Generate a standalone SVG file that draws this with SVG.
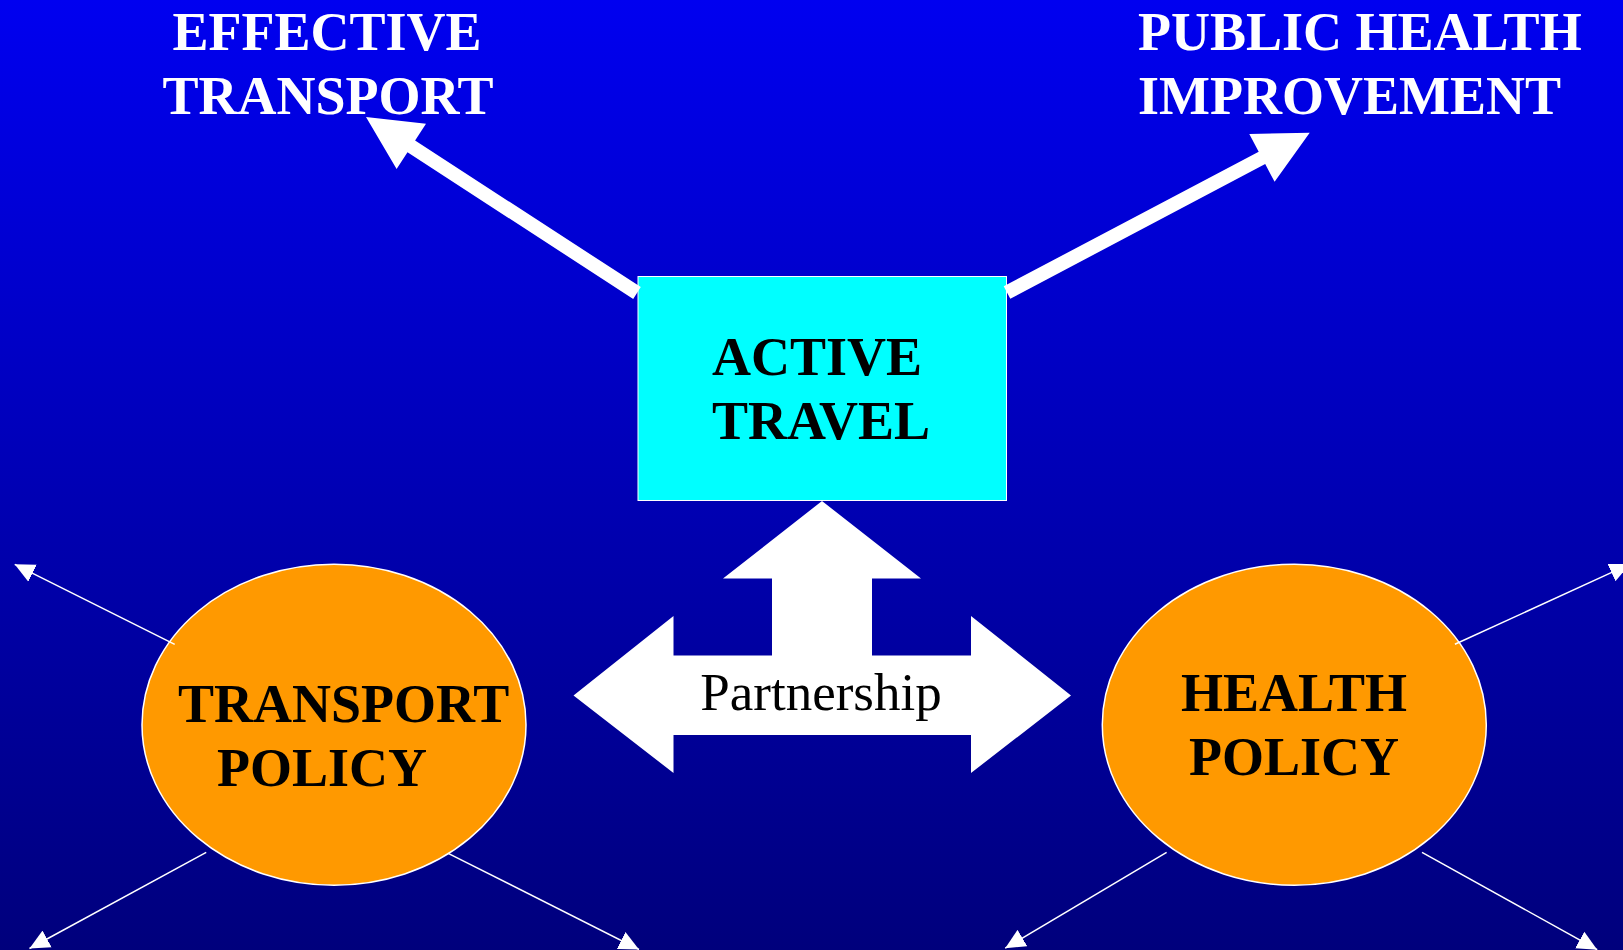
<svg xmlns="http://www.w3.org/2000/svg" width="1623" height="950" viewBox="0 0 1623 950">
  <defs>
    <linearGradient id="bg" x1="0" y1="0" x2="0" y2="1">
      <stop offset="0" stop-color="#0000F0"/>
      <stop offset="1" stop-color="#00007C"/>
    </linearGradient>
    <marker id="tip" markerUnits="userSpaceOnUse" markerWidth="20" markerHeight="20" refX="20" refY="9.5" orient="auto" viewBox="0 0 20 19">
      <path d="M0,0 L20,9.5 L0,19 z" fill="#FFFFFF"/>
    </marker>
  </defs>
  <style>
    .title { font-family: "Liberation Serif", "Times New Roman", serif; font-weight: bold; font-size: 54px; fill: #FFFFFF; }
    .label { font-family: "Liberation Serif", "Times New Roman", serif; font-weight: bold; font-size: 54px; fill: #000000; }
    .plain { font-family: "Liberation Serif", "Times New Roman", serif; font-size: 53px; fill: #000000; }
    .policy { fill: #FF9900; stroke: #FFFFFF; stroke-width: 1.5; }
    .thin { stroke: #FFFFFF; stroke-width: 1.5; fill: none; marker-end: url(#tip); }
    .bold-arrow { fill: #FFFFFF; }
  </style>

  <rect x="0" y="0" width="1623" height="950" fill="url(#bg)"/>

  <!-- outcome headings -->
  <g id="effective-transport">
    <text class="title" x="327" y="50" text-anchor="middle">EFFECTIVE</text>
    <text class="title" x="328" y="114" text-anchor="middle">TRANSPORT</text>
  </g>
  <g id="public-health">
    <text class="title" x="1138" y="50">PUBLIC HEALTH</text>
    <text class="title" x="1138" y="114">IMPROVEMENT</text>
  </g>

  <!-- central box -->
  <g id="active-travel">
    <rect x="638" y="276.5" width="368.5" height="224" fill="#00FFFF" stroke="#FFFFFF" stroke-width="1"/>
    <text class="label" x="712" y="375">ACTIVE</text>
    <text class="label" x="712" y="439">TRAVEL</text>
  </g>

  <!-- policy ellipses -->
  <g id="transport-policy">
    <ellipse class="policy" cx="334" cy="724.7" rx="192" ry="160.5"/>
    <text class="label" x="178" y="721.5">TRANSPORT</text>
    <text class="label" x="217" y="786">POLICY</text>
  </g>
  <g id="health-policy">
    <ellipse class="policy" cx="1294.3" cy="724.7" rx="192" ry="160.5"/>
    <text class="label" x="1294" y="710.5" text-anchor="middle">HEALTH</text>
    <text class="label" x="1294" y="775" text-anchor="middle">POLICY</text>
  </g>

  <!-- partnership block arrow -->
  <g id="partnership">
    <polygon class="bold-arrow" points="822,501 921,578.5 872,578.5 872,655.5 971,655.5 971,616 1071,695.5 971,773 971,735 673.5,735 673.5,773 573.5,695.5 673.5,616 673.5,655.5 772,655.5 772,578.5 723,578.5"/>
    <text class="plain" x="821" y="709.5" text-anchor="middle">Partnership</text>
  </g>

  <!-- connectors -->
  <g id="connectors">
    <polygon class="bold-arrow" points="366,117 426,123.8 415.1,140.5 640.8,287.1 633.2,298.9 407.5,152.3 396.6,169"/>
    <polygon class="bold-arrow" points="1309.7,132.7 1274.6,181.8 1265.2,164.1 1010.3,298.7 1003.7,286.3 1258.7,151.7 1249.3,134"/>

    <line class="thin" x1="174.7" y1="644.3" x2="14.7" y2="564.3"/>
    <line class="thin" x1="206.2" y1="852.3" x2="29.5" y2="948.5"/>
    <line class="thin" x1="448.2" y1="853.3" x2="639" y2="949.5"/>

    <line class="thin" x1="1454.9" y1="644.3" x2="1629.7" y2="564.2"/>
    <line class="thin" x1="1166.6" y1="852.3" x2="1005.2" y2="948.2"/>
    <line class="thin" x1="1422" y1="852.3" x2="1597.2" y2="949.7"/>
  </g>
</svg>
